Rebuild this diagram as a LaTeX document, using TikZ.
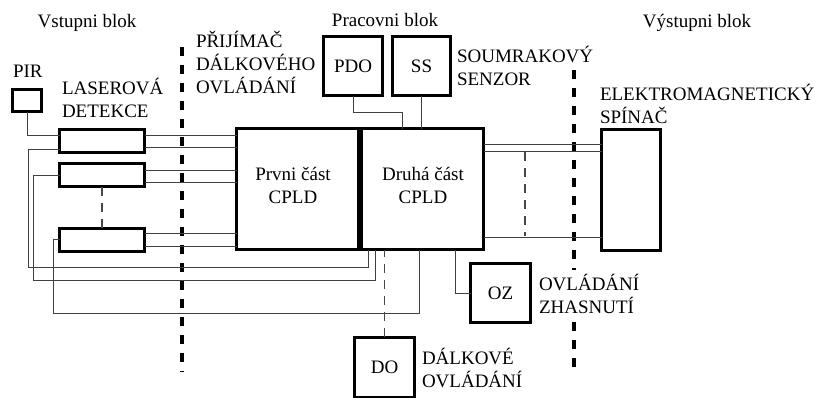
\documentclass[tikz,border=0pt]{standalone}
\usepackage{fontspec}
\setmainfont{Liberation Serif}
\usetikzlibrary{calc}
\tikzset{
  box/.style={draw=black, line width=3pt, fill=white, inner sep=0pt, outer sep=0pt},
  conn/.style={draw=black!75, line width=1pt},
  thindash/.style={draw=black!72, line width=1.2pt, dash pattern=on 9pt off 7pt},
  divider/.style={draw=black, line width=3.2pt, dash pattern=on 9pt off 9pt},
  lbl/.style={inner sep=0pt, outer sep=0pt, font=\fontsize{19}{23}\selectfont, align=left},
  clbl/.style={inner sep=0pt, outer sep=0pt, font=\fontsize{19}{23}\selectfont, align=center}
}
\begin{document}
\begin{tikzpicture}[x=1pt,y=-1pt]
\clip (0,0) rectangle (816,397);
\fill[white] (0,0) rectangle (816,397);

% dividers
\coordinate (d1t) at (182,47);  \coordinate (d1b) at (182,372);
\coordinate (d2t) at (574,70);  \coordinate (d2b) at (574,368);
\draw[divider] (d1t) -- (d1b);
\draw[divider] (d2t) -- (d2b);

% boxes
\node[box, minimum width=29pt, minimum height=22pt] (pir) at (27,100.5) {};
\node[box, minimum width=85pt, minimum height=23pt] (l1) at (102,141) {};
\node[box, minimum width=85pt, minimum height=23pt] (l2) at (102,175) {};
\node[box, minimum width=85pt, minimum height=23pt] (l3) at (102,239.5) {};
\node[box, minimum width=121.5pt, minimum height=121pt] (c1) at (297.25,189) {};
\node[box, minimum width=122.5pt, minimum height=121pt] (c2) at (422.25,189) {};
\node[box, minimum width=59pt, minimum height=59pt] (pdo) at (353,66) {};
\node[box, minimum width=58pt, minimum height=59pt] (ss) at (421.5,66) {};
\node[box, minimum width=60pt, minimum height=59pt] (oz) at (500.5,293) {};
\node[box, minimum width=60pt, minimum height=60pt] (do) at (384.5,367) {};
\node[box, minimum width=59pt, minimum height=121pt] (el) at (631,190) {};

% texts inside boxes
\node[clbl] at (pdo.center) {PDO};
\node[clbl] at (ss.center) {SS};
\node[clbl] at (oz.center) {OZ};
\node[clbl] at (do.center) {DO};
\node[clbl, anchor=base] at (293,203) {Prvni část\\CPLD};
\node[clbl, anchor=base] at (423,203) {Druhá část\\CPLD};

% labels (anchor = baseline of last line)
\node[lbl, anchor=base] at (87,27) {Vstupni blok};
\node[lbl, anchor=base] at (385,26) {Pracovni blok};
\node[lbl, anchor=base] at (697,27) {Výstupni blok};
\node[lbl, anchor=base west] at (13,77) {PIR};
\node[lbl, anchor=base west] at (62,117) {LASEROVÁ\\DETEKCE};
\node[lbl, anchor=base west] at (196,93) {PŘIJÍMAČ\\DÁLKOVÉHO\\OVLÁDÁNÍ};
\node[lbl, anchor=base west] at (457,85) {SOUMRAKOVÝ\\SENZOR};
\node[lbl, anchor=base west] at (600,123) {ELEKTROMAGNETICKÝ\\SPÍNAČ};
\node[lbl, anchor=base west, fill=white, inner ysep=4pt] at (539,313) {OVLÁDÁNÍ\\ZHASNUTÍ};
\node[lbl, anchor=base west] at (422,387) {DÁLKOVÉ\\OVLÁDÁNÍ};

% PIR to laser 1
\draw[conn] (pir.south) |- ($(l1.west)+(0,-6)$);

% laser outputs to CPLD
\foreach \b/\u/\v in {l1/-6/6, l2/-5/7, l3/-6.5/6.5}{
  \draw[conn] ($(\b.east)+(0,\u)$) coordinate (t) -- (t -| c1.west);
  \draw[conn] ($(\b.east)+(0,\v)$) coordinate (t) -- (t -| c1.west);
}
\draw[thindash] (l2.south) -- (l3.north);

% feedback loops from CPLD to lasers
\draw[conn] ($(l1.west)+(0,8)$) -| (28,267) -| ([xshift=-54.25pt]c2.south);
\draw[conn] (l2.west) -| (33,280) -| ([xshift=-47.25pt]c2.south);
\draw[conn] (l3.west) -| (53,313) -| ([xshift=-3.25pt]c2.south);

% PDO, SS to CPLD
\draw[conn] (pdo.south) -- ++(0,16.5) -| ([xshift=-20.25pt]c2.north);
\draw[conn] (ss.south) -- (ss.south |- c2.north);

% DO and OZ
\draw[thindash] (do.north) -- (do.north |- c2.south);
\draw[conn] ([xshift=33pt]c2.south) |- (oz.west);

% outputs to switch
\draw[conn] ($(c2.east)+(0,-45)$) coordinate (t) -- (t -| el.west);
\draw[conn] ($(c2.east)+(0,-38)$) coordinate (t) -- (t -| el.west);
\draw[conn] ($(c2.east)+(0,48)$) coordinate (t) -- (t -| el.west);
\coordinate (g1) at (525,152);
\coordinate (g2) at (525,236);
\draw[thindash] (g1) -- (g2);
\end{tikzpicture}
\end{document}
